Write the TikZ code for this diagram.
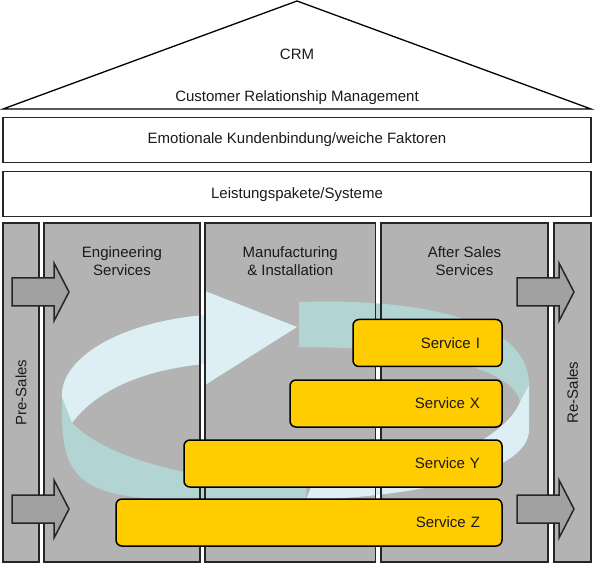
\documentclass[tikz,border=0pt]{standalone}
\usepackage{fontspec}
\setmainfont{Liberation Sans}
\usetikzlibrary{positioning}
\definecolor{colgray}{HTML}{B3B3B3}
\definecolor{arrowgray}{HTML}{A1A1A1}
\definecolor{ringlight}{HTML}{DDEFF5}
\definecolor{ringteal}{HTML}{B2D5D4}
\definecolor{servyellow}{HTML}{FFCC00}
\definecolor{linedark}{HTML}{262626}
\definecolor{textdark}{HTML}{1A1A1A}

\begin{document}
\begin{tikzpicture}[x=1pt,y=-1pt,
  font=\fontsize{15}{18}\selectfont,text=textdark,
  band/.style={draw=linedark,line width=1.4pt,minimum width=588pt,minimum height=45pt,inner sep=0pt,outer sep=0pt},
  colfill/.style={fill=colgray,minimum height=339pt,inner sep=0pt,outer sep=0pt},
  colline/.style={draw=linedark,line width=1.6pt},
  collabel/.style={align=center,inner sep=0pt},
  blockarrow/.style={fill=arrowgray,draw=linedark,line width=1.5pt,line join=miter},
  service/.style={draw=black,fill=servyellow,line width=1.5pt,rounded corners=6pt,align=right,
    inner xsep=22pt,inner ysep=0pt,minimum height=47pt,outer sep=0pt,anchor=east}]
\useasboundingbox (0,0) rectangle (595,564);

\draw[line width=1.3pt,line join=miter] (3,109) -- (297,1) -- (591,109) -- cycle;
\node[anchor=base] (crm) at (297,60) {CRM};
\node[anchor=base] (crmlong) at (297,102) {Customer Relationship Management};
\node[band] (emo) at (297,140) {Emotionale Kundenbindung/weiche Faktoren};
\node[band] (pakete) at (297,194.2) {Leistungspakete/Systeme};

\foreach \nm/\xl/\xr in {pre/3/39,eng/44/200,man/205/375.5,aft/381/548,re/554/591}
  \node[colfill,minimum width={\xr-\xl}] (\nm) at ({(\xl+\xr)/2},392.5) {};

% ring
\fill[ringteal] (299,302) .. controls (420,298) and (529,320) .. (529,385) -- (520,402)
  .. controls (515,370) and (430,347) .. (299,347) -- cycle;
\fill[ringteal] (62,397) .. controls (60,480) and (75,500) .. (200,500) -- (306,500) -- (306,487)
  .. controls (230,482) and (120,470) .. (72,423) -- cycle;
\fill[ringlight] (62,397) .. controls (60,358) and (120,322) .. (205,315) -- (205,291) -- (297,327)
  -- (205,385) -- (205,364) .. controls (140,370) and (95,392) .. (72,423) -- cycle;
\fill[ringlight] (306,500) .. controls (430,496) and (529,470) .. (529,430) -- (529,385) -- (520,402)
  .. controls (505,440) and (420,480) .. (311,487) -- cycle;

\foreach \nm in {pre,eng,man,aft,re}
  \draw[colline] (\nm.south west) rectangle (\nm.north east);

\node[collabel,below=23pt of eng.north] (englab) {Engineering\\Services};
\node[collabel,below=23pt of man.north] (manlab) {Manufacturing\\\& Installation};
\node[collabel,below=23pt of aft.north] (aftlab) {After Sales\\Services};
\node[rotate=90] (prelab) at (pre) {Pre-Sales};
\node[rotate=90] (relab) at (re) {Re-Sales};

\foreach \x/\y in {12/292,12/509,517/292,517/509}
  \draw[blockarrow] (\x,\y-14) -- (\x+42,\y-14) -- (\x+42,\y-29) -- (\x+57,\y)
    -- (\x+42,\y+29) -- (\x+42,\y+14) -- (\x,\y+14) -- cycle;

\foreach \nm/\y/\tw/\lab in {servI/343/105/Service I,servX/403.5/168/Service X,
    servY/463.5/274/Service Y,servZ/522.5/342/Service Z}
  \node[service,text width=\tw pt] (\nm) at (502,\y) {\lab};
\end{tikzpicture}
\end{document}
